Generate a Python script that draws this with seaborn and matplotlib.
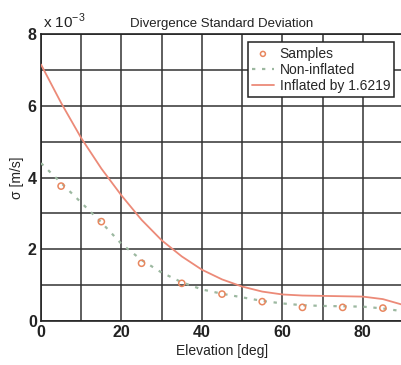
import matplotlib
matplotlib.use("Agg")
import matplotlib.pyplot as plt
import numpy as np
import seaborn as sns

# elevation grid for the curves [deg]
elev = [0, 5, 10, 15, 20, 25, 30, 35, 40, 45, 50, 55, 60, 65, 70, 75, 80, 85, 90]
# sigma values in units of 1e-3 m/s
non_inflated = [4.40, 3.85, 3.30, 2.75, 2.15, 1.70, 1.35, 1.08, 0.88, 0.76, 0.66, 0.56,
                0.49, 0.44, 0.42, 0.41, 0.40, 0.35, 0.27]
inflated = [7.15, 6.08, 5.10, 4.25, 3.50, 2.82, 2.25, 1.80, 1.43, 1.16, 0.96, 0.82,
            0.74, 0.71, 0.70, 0.69, 0.68, 0.61, 0.45]

sample_elev = [5, 15, 25, 35, 45, 55, 65, 75, 85]
sample_sigma = [3.76, 2.77, 1.61, 1.05, 0.75, 0.54, 0.38, 0.38, 0.36]

sns.set_style("white")
plt.rcParams["font.family"] = ["Liberation Sans", "DejaVu Sans"]

fig = plt.figure(figsize=(4.01, 3.65), dpi=100)
ax = fig.add_axes([41 / 401, 44 / 365, 362 / 401, 287 / 365])

sns.scatterplot(x=sample_elev, y=sample_sigma, ax=ax, marker="o", s=20,
                facecolor="none", edgecolor="#e8875f", linewidth=1.1,
                label="Samples", zorder=4)
sns.lineplot(x=elev, y=non_inflated, ax=ax, color="#9cb8a0", linestyle=(0, (1.5, 3)),
             linewidth=1.6, label="Non-inflated", zorder=3)
sns.lineplot(x=elev, y=inflated, ax=ax, color="#ec8a78", linewidth=1.3,
             label="Inflated by 1.6219", zorder=3)

ax.set_xlim(0, 90)
ax.set_ylim(0, 8)
ax.set_xticks([0, 20, 40, 60, 80])
ax.set_xticks(np.arange(0, 91, 10), minor=True)
ax.set_yticks([0, 2, 4, 6, 8])
ax.set_yticks(np.arange(0, 9, 1), minor=True)
ax.grid(True, which="both", color="#333333", linewidth=1.1)
ax.tick_params(which="both", length=0, labelsize=11.5, colors="#222222", pad=3)
for lbl in ax.get_xticklabels() + ax.get_yticklabels():
    lbl.set_fontweight("bold")
for sp in ax.spines.values():
    sp.set_color("#222222")
    sp.set_linewidth(1.2)

ax.set_title("Divergence Standard Deviation", fontsize=9.5, pad=5, color="#222222")
ax.set_xlabel("Elevation [deg]", fontsize=10, labelpad=3, color="#222222")
ax.set_ylabel("σ [m/s]", fontsize=10, labelpad=3, color="#222222")
ax.text(0.005, 1.01, r"x 10$^{\mathregular{-3}}$", transform=ax.transAxes,
        fontsize=11, ha="left", va="bottom", color="#222222")

leg = ax.legend(loc="upper right", bbox_to_anchor=(0.995, 0.995), fontsize=10,
                frameon=True, fancybox=False, framealpha=1, edgecolor="#222222",
                handlelength=1.6, handletextpad=0.4, borderpad=0.3, labelspacing=0.15,
                markerscale=0.8)
leg.get_frame().set_linewidth(1.1)

fig.savefig("out.png", dpi=100)
